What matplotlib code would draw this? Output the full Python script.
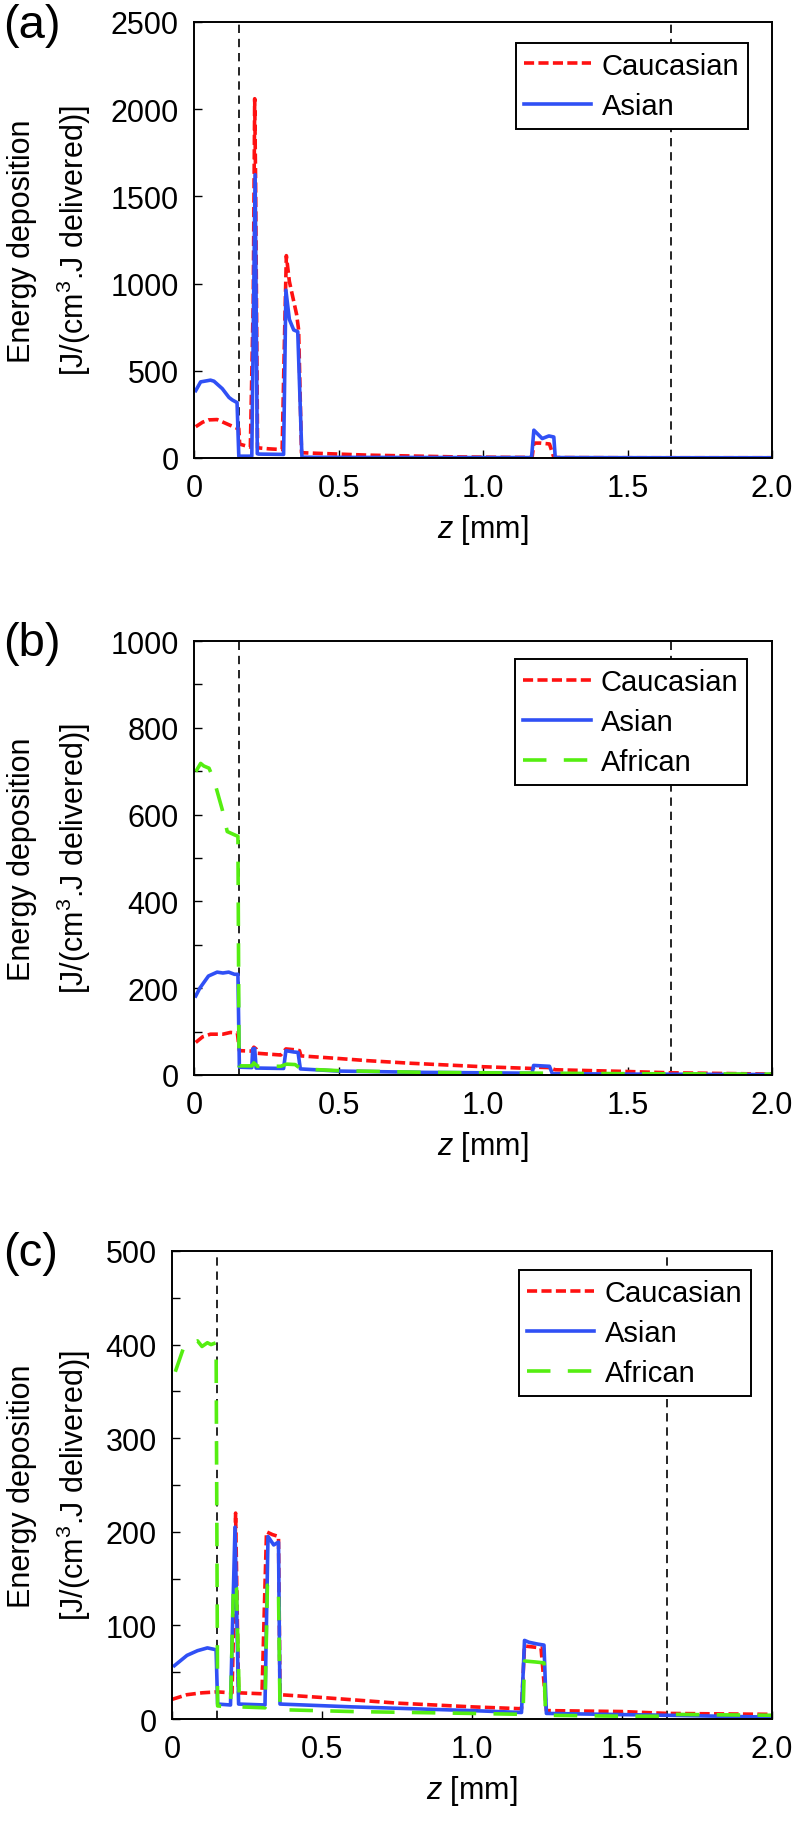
import matplotlib
matplotlib.use("Agg")
import matplotlib.pyplot as plt
from matplotlib.ticker import MultipleLocator

plt.rcParams['font.family'] = ['Liberation Sans', 'DejaVu Sans']
plt.rcParams['mathtext.fontset'] = 'custom'
plt.rcParams['mathtext.rm'] = 'Liberation Sans'
plt.rcParams['mathtext.it'] = 'Liberation Sans:italic'

# ---------------- data (z in mm, energy deposition) ----------------
# Panel (a)
a_z_cau = [0.006, 0.03, 0.05, 0.08, 0.121, 0.149, 0.155, 0.158, 0.195, 0.205, 0.210, 0.213, 0.220,
           0.26, 0.305, 0.312, 0.3195, 0.33, 0.355, 0.362, 0.372, 0.40, 0.6, 0.9, 1.1, 1.17, 1.176,
           1.20, 1.23, 1.245, 1.26, 1.5, 1.65, 2.0]
a_cau = [179, 205, 218, 220, 190, 170, 168, 79, 62, 900, 2060, 1605, 58,
         52, 48, 600, 1160, 1012, 823, 735, 30, 28, 16, 6, 3, 3, 85,
         85, 80, 3, 2, 1, 1, 1]
a_z_asi = [0.006, 0.023, 0.057, 0.069, 0.098, 0.121, 0.132, 0.149, 0.155, 0.20, 0.2115, 0.219, 0.224,
           0.31, 0.318, 0.33, 0.345, 0.359, 0.3735, 0.5, 1.0, 1.168, 1.176, 1.205, 1.228, 1.245,
           1.25, 1.6, 2.0]
a_asi = [386, 436, 446, 440, 397, 347, 333, 317, 10, 10, 1624, 24, 22,
         20, 962, 794, 734, 724, 4, 3, 2, 2, 159, 111, 126, 120,
         2, 1, 1]

# Panel (b)
b_z_cau = [0.006, 0.03, 0.057, 0.10, 0.126, 0.15, 0.157, 0.20, 0.207, 0.215, 0.22, 0.30, 0.318,
           0.35, 0.365, 0.37, 0.5, 0.6, 0.75, 1.0, 1.17, 1.18, 1.23, 1.25, 1.5, 1.65, 2.0]
b_cau = [75, 88, 94, 94, 98, 97, 56, 55, 64, 60, 50, 46, 60,
         58, 56, 44, 38, 33, 27, 19, 15, 18, 17, 12, 8, 5, 2]
b_z_asi = [0.006, 0.02, 0.05, 0.08, 0.10, 0.12, 0.14, 0.152, 0.157, 0.20, 0.203, 0.21, 0.215,
           0.31, 0.318, 0.345, 0.36, 0.368, 0.5, 0.8, 1.0, 1.17, 1.175, 1.23, 1.24, 1.5, 2.0]
b_asi = [182, 200, 228, 237, 235, 237, 232, 232, 18, 17, 60, 61, 16,
         15, 56, 53, 52, 14, 9, 6, 5, 4, 22, 20, 3, 2, 1]
b_z_afr = [0.006, 0.023, 0.034, 0.052, 0.069, 0.098, 0.115, 0.138, 0.152, 0.156, 0.20, 0.207,
           0.22, 0.30, 0.32, 0.35, 0.37, 0.5, 0.8, 1.0, 1.5, 2.0]
b_afr = [699, 718, 712, 707, 680, 611, 561, 554, 550, 21, 21, 28,
         20, 20, 25, 24, 14, 10, 6, 5, 3, 2]

# Panel (c)
c_z_cau = [0.0, 0.05, 0.10, 0.15, 0.20, 0.207, 0.212, 0.217, 0.222, 0.30, 0.308, 0.315, 0.335,
           0.355, 0.36, 0.5, 0.75, 1.0, 1.165, 1.175, 1.23, 1.248, 1.5, 1.65, 2.0]
c_cau = [21, 26, 28, 29, 28, 120, 220, 120, 28, 27, 120, 200, 197,
         195, 26, 23, 17, 13, 11, 78, 76, 9, 8, 6, 5]
c_z_asi = [0.008, 0.05, 0.085, 0.118, 0.147, 0.152, 0.195, 0.21, 0.222, 0.31, 0.32, 0.339, 0.355,
           0.36, 0.6, 1.0, 1.165, 1.175, 1.19, 1.22, 1.24, 1.248, 1.65, 2.0]
c_asi = [57, 68, 73, 76, 74, 16, 15, 205, 16, 15, 195, 186, 189,
         16, 13, 9, 7, 84, 82, 80, 79, 6, 4, 2]
c_z_afr = [0.011, 0.04, 0.06, 0.085, 0.10, 0.118, 0.13, 0.147, 0.152, 0.195, 0.205, 0.215, 0.225,
           0.31, 0.318, 0.34, 0.355, 0.36, 0.6, 1.0, 1.17, 1.175, 1.21, 1.24, 1.245, 1.5, 1.64,
           1.66, 2.0]
c_afr = [371, 398, 402, 404, 398, 402, 400, 402, 14, 13, 146, 140, 13,
         12, 143, 138, 136, 10, 8, 6, 5, 62, 61, 60, 4, 3, 3,
         5, 4]

boundaries_ab = [0.155, 1.65]
boundaries_c = [0.15, 1.65]
x_ticks = [0, 0.5, 1.0, 1.5, 2.0]
x_tick_labels = ["0", "0.5", "1.0", "1.5", "2.0"]
series_names = ["Caucasian", "Asian", "African"]

# ---------------- styles ----------------
RED = "#ff1111"
BLUE = "#3050f5"
GREEN = "#55ee11"
LW = 2.6
FS = 22

fig = plt.figure(figsize=(8, 18.24), dpi=100)

panels = [
    dict(rect=[0.2425, 0.7484, 0.7225, 0.2390], ymax=2500, major=500, minor=500,
         data=[(a_z_cau, a_cau), (a_z_asi, a_asi)], bounds=boundaries_ab, tag="(a)",
         leg=(0.9585, 0.952), tag_y=1 - 4 / 1824),
    dict(rect=[0.2425, 0.4101, 0.7225, 0.2379], ymax=1000, major=200, minor=100,
         data=[(b_z_cau, b_cau), (b_z_asi, b_asi), (b_z_afr, b_afr)], bounds=boundaries_ab,
         tag="(b)", leg=(0.957, 0.9585), tag_y=1 - 622 / 1824),
    dict(rect=[0.215, 0.0570, 0.750, 0.2566], ymax=500, major=100, minor=50,
         data=[(c_z_cau, c_cau), (c_z_asi, c_asi), (c_z_afr, c_afr)], bounds=boundaries_c,
         tag="(c)", leg=(0.965, 0.959), tag_y=1 - 1232 / 1824),
]

styles = [
    dict(color=RED, lw=LW, dashes=(2.8, 1.2)),
    dict(color=BLUE, lw=LW, linestyle="-"),
    dict(color=GREEN, lw=LW, dashes=(6.5, 4.8)),
]

for p in panels:
    ax = fig.add_axes(p["rect"])
    for b in p["bounds"]:
        ax.axvline(b, color="black", lw=1.2, dashes=(5, 3.5), zorder=1)
    handles = []
    for (zz, vv), st, name in zip(p["data"], styles, series_names):
        (h,) = ax.plot(zz, vv, label=name, zorder=2, solid_joinstyle="round", **st)
        handles.append(h)
    ax.set_xlim(0, 2.0)
    ax.set_ylim(0, p["ymax"])
    ax.set_xticks(x_ticks)
    ax.set_xticklabels(x_tick_labels)
    ax.yaxis.set_major_locator(MultipleLocator(p["major"]))
    ax.yaxis.set_minor_locator(MultipleLocator(p["minor"]))
    ax.tick_params(axis="both", which="both", direction="in", length=6, width=1.0,
                   top=False, right=False, labelsize=FS, pad=11)
    for s in ax.spines.values():
        s.set_linewidth(1.4)
    ax.set_xlabel(r"$\mathit{z}$ [mm]", fontsize=FS, labelpad=6)
    leg = ax.legend(handles=handles, loc="upper right", bbox_to_anchor=p["leg"],
                    borderaxespad=0, fontsize=21, frameon=True, fancybox=False,
                    edgecolor="black", framealpha=1, handlelength=2.3, handletextpad=0.35,
                    labelspacing=0.42, borderpad=0.3)
    leg.get_frame().set_linewidth(1.4)
    leg.set_zorder(5)
    # y label (two lines) centred on axes
    yc = p["rect"][1] + p["rect"][3] / 2
    fig.text(0.062, yc, "Energy deposition\n[J/(cm$^3$.J delivered)]", rotation=90,
             ha="center", va="center", fontsize=FS, linespacing=1.6)
    fig.text(0.004, p["tag_y"], p["tag"], fontsize=34, ha="left", va="top")

fig.savefig("out.png", dpi=100)
